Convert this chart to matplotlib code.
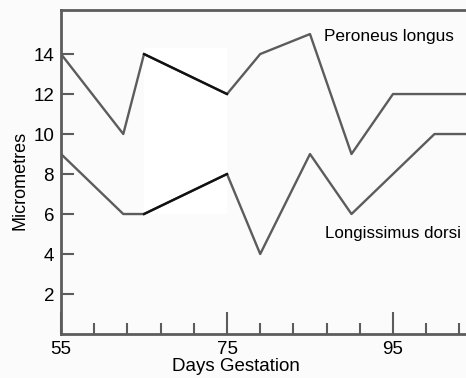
import numpy as np
import matplotlib
matplotlib.use("Agg")
import matplotlib.pyplot as plt
import matplotlib.patches as patches

plt.rcParams['font.family'] = ['Liberation Sans', 'DejaVu Sans']

# gestation days and fibre diameters
days = [55, 62.5, 65, 75, 79, 85, 90, 95, 100, 104]
peroneus = [14, 10, 14, 12, 14, 15, 9, 12, 12, 12]
longissimus = [9, 6, 6, 8, 4, 9, 6, 8, 10, 10]
# the 65 -> 75 stretch is drawn darker in the original
dark_from, dark_to = 2, 3

yticks = [2, 4, 6, 8, 10, 12, 14]
xticks = [55, 75, 95]
xminor = [59, 63, 67, 71, 79, 83, 87, 91, 99, 103]

grey = '#5c5c5c'
bg = '#fbfbfb'

fig = plt.figure(figsize=(4.66, 3.78), dpi=100)
fig.patch.set_facecolor(bg)
ax = fig.add_axes([0.131, 0.1164, 0.869, 0.857])
ax.set_facecolor(bg)

# whiter patch behind the dark segments
ax.add_patch(patches.Rectangle((65, 6), 10, 8.3, facecolor='white',
                               edgecolor='none', zorder=0))

for ys in (peroneus, longissimus):
    ax.plot(days, ys, color=grey, lw=1.7, zorder=2)
    ax.plot(days[dark_from:dark_to + 1], ys[dark_from:dark_to + 1],
            color='#111111', lw=1.7, zorder=3)

ax.text(86.7, 14.9, 'Peroneus longus', fontsize=12.4, va='center', ha='left')
ax.text(86.8, 5.05, 'Longissimus dorsi', fontsize=12.2, va='center', ha='left')

ax.set_xlim(55, 103.8)
ax.set_ylim(0, 16.2)

ax.set_xticks(xticks)
ax.set_xticks(xminor, minor=True)
ax.set_yticks(yticks)
ax.tick_params(axis='both', which='both', direction='in', color=grey,
               width=1.5, labelsize=13.5)
ax.tick_params(axis='x', which='major', length=16, pad=5)
ax.tick_params(axis='x', which='minor', length=8)
ax.tick_params(axis='y', which='major', length=9, pad=5)
# the 10 tick is longer
for t in ax.yaxis.get_major_ticks():
    if t.get_loc() == 10:
        t.tick1line.set_markersize(17)

ax.spines['right'].set_visible(False)
for s in ('left', 'bottom', 'top'):
    ax.spines[s].set_color(grey)
    ax.spines[s].set_linewidth(2)

ax.set_xlabel('Days Gestation', fontsize=13.5)
ax.xaxis.set_label_coords(0.432, -0.075)
ax.set_ylabel('Micrometres', fontsize=13)
ax.yaxis.set_label_coords(-0.08, 0.475)

fig.savefig('out.png', dpi=100, facecolor=fig.get_facecolor())
